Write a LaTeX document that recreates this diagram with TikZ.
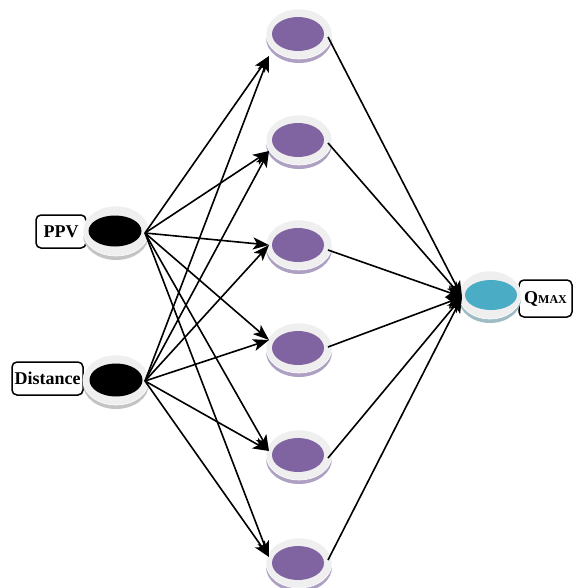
\documentclass[tikz,border=0pt]{standalone}
\usepackage{fontspec}
\setmainfont{Liberation Serif}
\usetikzlibrary{arrows.meta,shapes.geometric,shadows}
\definecolor{ringfill}{HTML}{EFEFEF}
\definecolor{graysh}{HTML}{C4C4C4}
\definecolor{purplesh}{HTML}{ADA0C2}
\definecolor{tealsh}{HTML}{9FBCC4}
\definecolor{neuronpurple}{HTML}{8064A2}
\definecolor{neuronteal}{HTML}{4BACC6}
\begin{document}
\begin{tikzpicture}[x=1pt,y=-1pt,
  ring/.style={ellipse, inner sep=0pt, minimum width=66pt, minimum height=50pt,
    fill=ringfill, draw=white, line width=0.6pt,
    general shadow={fill=#1, shadow yshift=-4pt}},
  core/.style={ellipse, inner sep=0pt, minimum width=52pt, minimum height=34pt, fill=#1},
  lab/.style={draw=black, line width=1.5pt, rounded corners=5pt, fill=white,
    inner sep=0pt, minimum height=33pt, font=\fontsize{18}{20}\selectfont\bfseries},
  arr/.style={line width=1.6pt, -{Stealth[length=16pt,width=12pt,inset=4pt]}}
]
\useasboundingbox (0,0) rectangle (573,588);

% labels
\node[lab, minimum width=50pt] (lppv) at (61,231.5) {PPV};
\node[lab, minimum width=71pt] (ldist) at (47.5,378.5) {Distance};
\node[lab, minimum width=53pt, minimum height=37pt] (lq) at (545.5,298.5)
  {Q\fontsize{12}{14}\selectfont MAX};

% input neurons
\node[ring=graysh] (p) at (116,231) {};
\node[core=black, minimum width=53pt, minimum height=31pt] (pi) at (115,231) {};
\node[ring=graysh] (d) at (116,380) {};
\node[core=black, minimum width=53pt, minimum height=33pt] (di) at (116,380) {};
\coordinate (ps) at (145,233);
\coordinate (ds) at (145,381);

% hidden neurons: name / y / arrow target offset / outgoing start offset
\foreach \n/\y/\ty/\sy in {1/34/22/3,2/140/11/3,3/245/0/5,4/348/-8/-1,5/455/-4/3,6/563/-6/-3}{
  \node[ring=purplesh] (h\n) at (299,\y) {};
  \node[core=neuronpurple] (h\n i) at (298,\y) {};
  \coordinate (t\n) at (269,\y+\ty);
  \coordinate (s\n) at (328,\y+\sy);
}

% output neuron
\node[ring=tealsh, minimum width=62pt, minimum height=48pt] (o) at (490,295) {};
\node[core=neuronteal, minimum height=30pt] (oi) at (491,295) {};
\coordinate (ot) at (462,297);

% connections
\foreach \n in {1,...,6}{
  \draw[arr] (ps) -- (t\n);
  \draw[arr] (ds) -- (t\n);
  \draw[arr] (s\n) -- (ot);
}
\end{tikzpicture}
\end{document}
